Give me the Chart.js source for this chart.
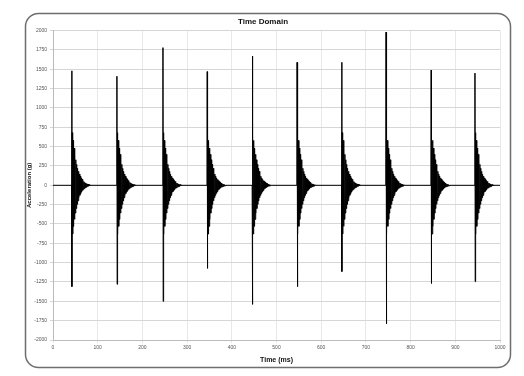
<!DOCTYPE html>
<html>
<head>
<meta charset="utf-8">
<script src="https://cdn.jsdelivr.net/npm/chart.js@4"></script>
<style>
  html, body { margin: 0; padding: 0; background: #fff; }
  #wrap { width: 524px; height: 376px; }
</style>
</head>
<body>
<div id="wrap"><canvas id="myChart" width="524" height="376"></canvas></div>
<script>
// impulse times (ms) and peak values
var impulseTimes = [42, 143, 246, 345, 446, 546, 646, 745, 846, 944];
var positivePeaks = [1480, 1410, 1780, 1470, 1670, 1590, 1590, 1980, 1490, 1450];
var negativePeaks = [-1310, -1280, -1500, -1075, -1540, -1310, -1115, -1790, -1270, -1245];
// ring-down after each hit, 1 ms per sample
var ringDown = [680, -630, 580, -530, 480, -440, 400, -360, 330, -300,
  270, -245, 220, -200, 180, -160, 145, -130, 118, -105,
  95, -85, 76, -68, 60, -54, 48, -42, 37, -33,
  29, -25, 22, -19, 16, -14, 12, -10, 8, -6, 4];
var yTicks = [-2000, -1750, -1500, -1250, -1000, -750, -500, -250, 0, 250, 500, 750, 1000, 1250, 1500, 1750, 2000];
var xTicks = [0, 100, 200, 300, 400, 500, 600, 700, 800, 900, 1000];

// build the signal from the values above
var signal = [{x: 0, y: 0}];
impulseTimes.forEach(function (t, i) {
  signal.push({x: t - 0.5, y: 0});
  signal.push({x: t, y: positivePeaks[i]});
  signal.push({x: t + 0.5, y: negativePeaks[i]});
  ringDown.forEach(function (v, k) {
    signal.push({x: t + 1 + k, y: v});
  });
  signal.push({x: t + 1 + ringDown.length, y: 0});
});
signal.push({x: 1000, y: 0});

// white page + rounded frame
var framePlugin = {
  id: 'frame',
  beforeDraw: function (chart) {
    var c = chart.ctx;
    c.save();
    c.fillStyle = '#fff';
    c.fillRect(0, 0, chart.width, chart.height);
    c.restore();
  },
  afterDraw: function (chart) {
    var c = chart.ctx;
    c.save();
    c.strokeStyle = '#6e6e6e';
    c.lineWidth = 1.5;
    c.beginPath();
    c.roundRect(25.5, 13.5, 485, 354, 13);
    c.stroke();
    c.restore();
  }
};

var ctx = document.getElementById('myChart').getContext('2d');
var myChart = new Chart(ctx, {
  type: 'line',
  data: {
    datasets: [{
      data: signal,
      borderColor: '#000',
      borderWidth: 1,
      pointRadius: 0,
      tension: 0,
      fill: false
    }]
  },
  options: {
    responsive: false,
    animation: false,
    layout: { padding: { left: 26, right: 24, top: 14, bottom: 12 } },
    plugins: {
      legend: { display: false },
      tooltip: { enabled: false },
      title: {
        display: true,
        text: 'Time Domain',
        color: '#111',
        font: { family: 'Liberation Sans', size: 8, weight: 'bold' },
        padding: { top: 3, bottom: 4 }
      }
    },
    scales: {
      x: {
        type: 'linear',
        min: 0,
        max: 1000,
        afterBuildTicks: function (axis) { axis.ticks = xTicks.map(function (v) { return {value: v}; }); },
        ticks: {
          color: '#555',
          font: { family: 'Liberation Sans', size: 5 },
          maxRotation: 0,
          padding: 2,
          callback: function (v) { return String(v); }
        },
        grid: { color: '#e8e8e8', lineWidth: 1, tickLength: 3 },
        border: { color: '#bbb' },
        title: {
          display: true,
          text: 'Time (ms)',
          color: '#111',
          font: { family: 'Liberation Sans', size: 7, weight: 'bold' },
          padding: { top: 2, bottom: 0 }
        },
        afterFit: function (axis) { axis.height = 24; }
      },
      y: {
        min: -2000,
        max: 2000,
        afterBuildTicks: function (axis) { axis.ticks = yTicks.map(function (v) { return {value: v}; }); },
        ticks: {
          color: '#555',
          font: { family: 'Liberation Sans', size: 5 },
          padding: 3,
          callback: function (v) { return String(v); }
        },
        grid: { color: '#d6d6d6', lineWidth: 1, tickLength: 3 },
        border: { color: '#bbb' },
        title: {
          display: true,
          text: 'Acceleration (g)',
          color: '#111',
          font: { family: 'Liberation Sans', size: 6, weight: 'bold' },
          padding: { top: 0, bottom: 2 }
        },
        afterFit: function (axis) { axis.width = 27; }
      }
    }
  },
  plugins: [framePlugin]
});
</script>
</body>
</html>
